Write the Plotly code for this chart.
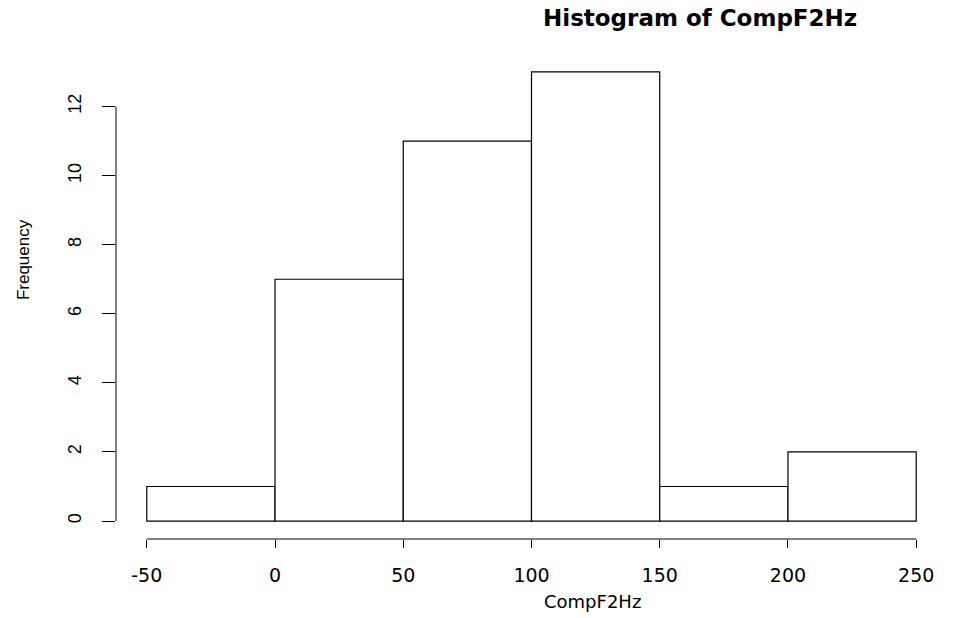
import plotly.graph_objects as go

bin_edges = [-50, 0, 50, 100, 150, 200, 250]
counts = [1, 7, 11, 13, 1, 2]
x_ticks = [-50, 0, 50, 100, 150, 200, 250]
y_ticks = [0, 2, 4, 6, 8, 10, 12]
title_text = "Histogram of CompF2Hz"
x_label = "CompF2Hz"
y_label = "Frequency"

mids = [(a + b) / 2 for a, b in zip(bin_edges[:-1], bin_edges[1:])]
widths = [b - a for a, b in zip(bin_edges[:-1], bin_edges[1:])]

HFONT = "DejaVu Sans"
VFONT = "Liberation Sans"

fig = go.Figure(go.Bar(
    x=mids, y=counts, width=widths,
    marker=dict(color="white", line=dict(color="black", width=1.2)),
    hoverinfo="skip",
))

pad_x = 0.04 * (bin_edges[-1] - bin_edges[0])
pad_y = 0.04 * max(counts)

fig.update_layout(
    width=958, height=618,
    margin=dict(l=116, r=11, t=54, b=79),
    paper_bgcolor="white", plot_bgcolor="white",
    showlegend=False,
    font=dict(family=HFONT, color="black", size=18),
    xaxis=dict(
        range=[bin_edges[0] - pad_x, bin_edges[-1] + pad_x],
        tickvals=x_ticks, ticktext=[str(v) for v in x_ticks],
        ticks="outside", ticklen=8, tickwidth=1, tickcolor="black",
        showgrid=False, zeroline=False, showline=False,
        tickfont=dict(family=HFONT, size=19, color="black"),
        ticklabelstandoff=11,
    ),
    yaxis=dict(
        range=[-pad_y, max(counts) + pad_y],
        tickvals=y_ticks, ticktext=[str(v) for v in y_ticks],
        ticks="outside", ticklen=13, tickwidth=1, tickcolor="black",
        tickangle=-90,
        showgrid=False, zeroline=False, showline=False,
        tickfont=dict(family=VFONT, size=18, color="black"),
        ticklabelstandoff=14,
    ),
    shapes=[
        dict(type="line", xref="x", yref="paper",
             x0=x_ticks[0], x1=x_ticks[-1], y0=0, y1=0,
             line=dict(color="black", width=1)),
        dict(type="line", xref="paper", yref="y",
             x0=0, x1=0, y0=y_ticks[0], y1=y_ticks[-1],
             line=dict(color="black", width=1)),
    ],
    annotations=[
        dict(text="<b>" + title_text + "</b>", xref="paper", yref="paper",
             x=0.703, y=1.074, xanchor="center", yanchor="middle",
             showarrow=False, font=dict(family=HFONT, size=23, color="black")),
        dict(text=x_label, xref="paper", yref="paper",
             x=0.573, y=-0.128, xanchor="center", yanchor="middle",
             showarrow=False, font=dict(family=HFONT, size=18, color="black")),
        dict(text=y_label, xref="paper", yref="paper",
             x=-0.112, y=0.577, xanchor="center", yanchor="middle",
             textangle=-90,
             showarrow=False, font=dict(family=VFONT, size=17, color="black")),
    ],
)

fig.write_html(
    "out.html",
    config={"displayModeBar": False},
    post_script="document.body.style.margin='0';document.body.style.overflow='hidden';",
)
